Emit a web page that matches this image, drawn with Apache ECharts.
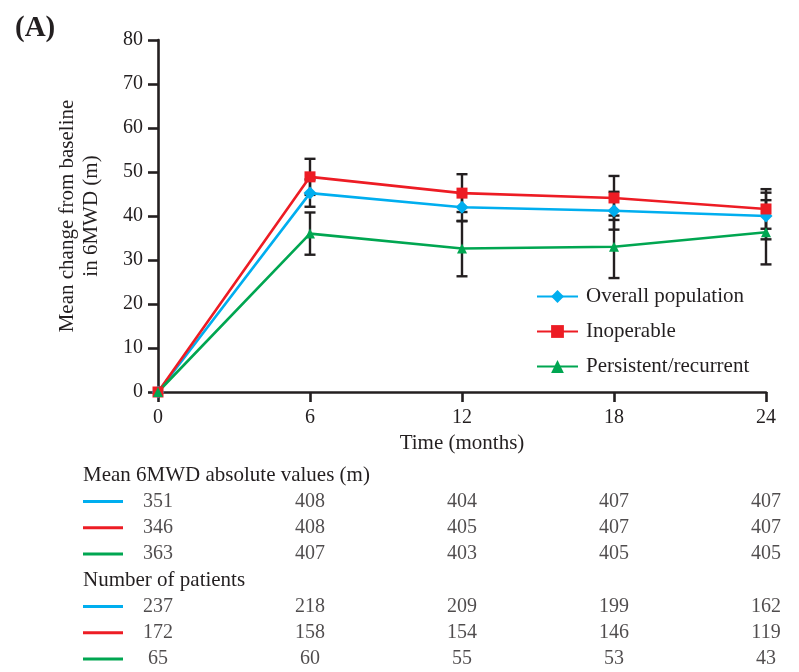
<!DOCTYPE html>
<html><head><meta charset="utf-8">
<script src="https://cdn.jsdelivr.net/npm/echarts@6/dist/echarts.min.js"></script>
<style>html,body{margin:0;padding:0;background:#fff}#c{width:799px;height:672px}</style>
</head><body><div id="c"></div>
<script>
const months = [0, 6, 12, 18, 24];
const seriesNames = ['Overall population', 'Inoperable', 'Persistent/recurrent'];
const overallMean = [0, 45.2, 42.0, 41.2, 40.0];
const inoperableMean = [0, 48.9, 45.2, 44.1, 41.6];
const persistentMean = [0, 36.0, 32.6, 33.0, 36.3];
const overallErr = [0, 3.1, 3.2, 4.3, 5.3];
const inoperableErr = [0, 4.1, 4.3, 5.0, 4.5];
const persistentErr = [0, 4.8, 6.3, 7.1, 7.3];
const yTicks = [0, 10, 20, 30, 40, 50, 60, 70, 80];
const tableRows = ['Mean 6MWD absolute values (m)', 'abs0', 'abs1', 'abs2', 'Number of patients', 'n0', 'n1', 'n2'];
const absOverall = [351, 408, 404, 407, 407];
const absInoperable = [346, 408, 405, 407, 407];
const absPersistent = [363, 407, 403, 405, 405];
const nOverall = [237, 218, 209, 199, 162];
const nInoperable = [172, 158, 154, 146, 119];
const nPersistent = [65, 60, 55, 53, 43];

const colors = ['#00aeef', '#ed1c24', '#00a651'];
const ink = '#231f20';
const font = 'Liberation Serif';
const means = [overallMean, inoperableMean, persistentMean];
const errs = [overallErr, inoperableErr, persistentErr];
const symbols = ['diamond', 'rect', 'triangle'];
const symSizes = [13, 11, 10];

const chart = echarts.init(document.getElementById('c'));
const series = [];
means.forEach((m, s) => {
  series.push({
    type: 'custom', name: seriesNames[s] + ' err', xAxisIndex: 0, yAxisIndex: 0, z: 1, silent: true,
    data: months.map((x, i) => [x, m[i] - errs[s][i], m[i] + errs[s][i]]).filter((d, i) => errs[s][i] > 0),
    renderItem: (params, api) => {
      const lo = api.coord([api.value(0), api.value(1)]);
      const hi = api.coord([api.value(0), api.value(2)]);
      const w = 5.5;
      const st = { stroke: ink, lineWidth: 2.4 };
      return { type: 'group', children: [
        { type: 'line', shape: { x1: lo[0], y1: lo[1], x2: hi[0], y2: hi[1] }, style: st },
        { type: 'line', shape: { x1: lo[0] - w, y1: lo[1], x2: lo[0] + w, y2: lo[1] }, style: st },
        { type: 'line', shape: { x1: hi[0] - w, y1: hi[1], x2: hi[0] + w, y2: hi[1] }, style: st }
      ]};
    }
  });
});
means.forEach((m, s) => {
  series.push({
    type: 'line', name: seriesNames[s], xAxisIndex: 0, yAxisIndex: 0, z: 3,
    data: months.map((x, i) => [x, m[i]]),
    symbol: symbols[s], symbolSize: symSizes[s], showSymbol: true,
    lineStyle: { color: colors[s], width: 2.6 },
    itemStyle: { color: colors[s] },
    emphasis: { disabled: true }
  });
});
const tableData = [null, absOverall, absInoperable, absPersistent, null, nOverall, nInoperable, nPersistent];
tableData.forEach((vals, r) => {
  if (!vals) return;
  series.push({
    type: 'scatter', xAxisIndex: 1, yAxisIndex: 1, silent: true, symbolSize: 1,
    itemStyle: { color: 'rgba(0,0,0,0)' },
    data: months.map((x, i) => [x, r, vals[i]]),
    label: { show: true, position: 'inside', formatter: p => String(p.value[2]),
      fontFamily: font, fontSize: 20, color: ink }
  });
});
const rowColor = { abs0: colors[0], abs1: colors[1], abs2: colors[2], n0: colors[0], n1: colors[1], n2: colors[2] };

chart.setOption({
  animation: false,
  backgroundColor: '#fff',
  title: { text: '(A)', left: 10, top: 9, textStyle: { fontFamily: font, fontWeight: 'bold', fontSize: 29, color: ink } },
  legend: {
    data: seriesNames, orient: 'vertical', left: 536, top: 286, padding: 0, itemWidth: 41, itemHeight: 16, itemGap: 14,
    textStyle: { fontFamily: font, fontSize: 21, color: ink, padding: [0, 0, 0, 3] }, selectedMode: false
  },
  grid: [
    { left: 158, right: 33, top: 40, bottom: 280 },
    { left: 158, right: 33, top: 462, height: 211 }
  ],
  xAxis: [
    { type: 'value', gridIndex: 0, min: 0, max: 24, interval: 6, name: 'Time (months)', nameLocation: 'middle', nameGap: 40,
      nameTextStyle: { fontFamily: font, fontSize: 21, color: ink },
      axisLine: { lineStyle: { color: ink, width: 2.6 } },
      axisTick: { length: 10, lineStyle: { color: ink, width: 2.6 } },
      axisLabel: { fontFamily: font, fontSize: 20, color: ink, margin: 16 },
      splitLine: { show: false } },
    { type: 'value', gridIndex: 1, min: 0, max: 24, show: false }
  ],
  yAxis: [
    { type: 'value', gridIndex: 0, min: 0, max: 80, interval: 10,
      name: 'Mean change from baseline\nin 6MWD (m)', nameLocation: 'middle', nameGap: 55,
      nameTextStyle: { fontFamily: font, fontSize: 21, color: ink, lineHeight: 24 },
      axisLine: { lineStyle: { color: ink, width: 2.6 } },
      axisTick: { length: 10, lineStyle: { color: ink, width: 2.6 } },
      axisLabel: { fontFamily: font, fontSize: 20, color: ink, margin: 15 },
      splitLine: { show: false } },
    { type: 'category', gridIndex: 1, data: tableRows, inverse: true,
      axisLine: { show: false }, axisTick: { show: false }, splitLine: { show: false },
      axisLabel: { interval: 0, align: 'left', margin: 75, fontFamily: font, fontSize: 21, color: ink,
        formatter: v => rowColor[v] ? '{' + v + '|}' : v,
        rich: Object.fromEntries(Object.keys(rowColor).map(k => [k, { width: 40, height: 3, backgroundColor: rowColor[k] }]))
      } }
  ],
  series
});
</script></body></html>
